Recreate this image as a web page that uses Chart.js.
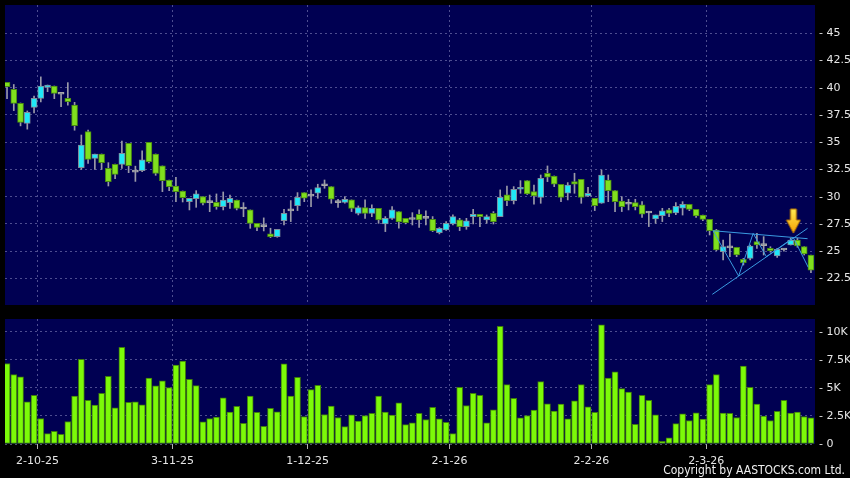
<!DOCTYPE html>
<html>
<head>
<meta charset="utf-8">
<script src="https://cdn.jsdelivr.net/npm/chart.js@4.4.1/dist/chart.umd.min.js"></script>
<style>
    html, body { margin: 0; padding: 0; background: #000; }
    #wrap { position: relative; width: 850px; height: 478px; overflow: hidden; background: #000; }
    #priceChart { position: absolute; left: 0; top: 0; }
    #volChart { position: absolute; left: 0; top: 310px; }
    #copy {
        position: absolute; right: 5px; top: 463px; color: #f0f0f0;
        font: 12px 'Liberation Sans Narrow', 'DejaVu Sans Condensed', sans-serif;
    }
</style>
</head>
<body>
<div id="wrap">
    <canvas id="priceChart" width="850" height="310"></canvas>
    <canvas id="volChart" width="850" height="168"></canvas>
    <div id="copy">Copyright by AASTOCKS.com Ltd.</div>
</div>
<script>
'use strict';

// daily candles, oldest first
const openPrices = [
    40.5, 39.85, 38.57, 36.73, 38.2, 39.03, 40.04, 40.16, 39.4, 39.03,
    38.42, 32.66, 35.97, 33.52, 33.92, 32.6, 32.97, 32.97, 34.9, 32.25,
    32.39, 35.0, 33.92, 32.82, 31.53, 30.98, 30.52, 29.54, 29.82, 30.0,
    29.45, 29.48, 29.08, 29.45, 29.69, 28.87, 28.78, 27.55, 27.25, 26.58,
    26.33, 27.8, 28.7, 29.18, 30.37, 30.05, 30.31, 31.0, 30.92, 29.45,
    29.48, 29.7, 28.47, 28.99, 28.47, 28.93, 27.49, 28.01, 28.63, 28.01,
    27.9, 28.38, 28.0, 27.92, 26.7, 26.94, 27.49, 27.86, 27.25, 28.17,
    28.38, 27.86, 28.47, 28.17, 30.16, 29.64, 30.68, 31.47, 30.46, 29.94,
    32.15, 31.9, 31.14, 30.31, 31.38, 31.59, 30.06, 29.85, 29.39, 31.53,
    30.55, 29.6, 29.3, 29.45, 29.24, 28.5, 27.95, 28.26, 28.78, 28.5,
    28.95, 29.3, 28.83, 28.31, 27.92, 26.94, 24.95, 25.3, 25.35, 24.24,
    24.33, 25.87, 25.5, 25.25, 24.55, 25.1, 25.56, 26.02, 25.41, 24.64
];
const highPrices = [
    40.5, 40.3, 38.6, 37.87, 39.24, 41.0, 40.25, 40.16, 39.45, 40.47,
    38.66, 35.66, 36.12, 33.92, 33.92, 33.12, 33.0, 35.1, 34.9, 32.8,
    34.2, 35.0, 33.92, 32.82, 31.53, 31.77, 30.52, 29.85, 30.55, 30.0,
    30.15, 30.25, 30.43, 30.15, 29.69, 29.45, 28.78, 27.55, 28.05, 27.1,
    27.0, 28.84, 29.64, 30.37, 30.37, 30.62, 31.14, 31.53, 30.92, 29.76,
    30.0, 29.7, 29.15, 29.7, 29.24, 28.93, 28.17, 29.09, 28.63, 28.01,
    28.53, 28.78, 28.69, 28.17, 27.16, 27.7, 28.32, 28.01, 28.01, 28.84,
    28.38, 28.32, 28.63, 30.62, 30.98, 30.92, 31.47, 31.47, 31.07, 31.99,
    32.82, 31.9, 31.14, 31.29, 32.15, 31.59, 30.86, 29.85, 32.45, 31.99,
    30.55, 30.0, 29.76, 29.76, 29.54, 28.63, 28.32, 28.93, 28.93, 29.45,
    29.54, 29.3, 28.83, 28.31, 27.92, 27.0, 26.02, 26.57, 25.35, 24.33,
    25.56, 26.63, 26.33, 25.4, 25.25, 25.2, 26.17, 26.17, 25.41, 24.64
];
const lowPrices = [
    39.0, 37.9, 36.5, 36.2, 37.7, 38.7, 39.64, 39.0, 38.26, 38.4,
    36.1, 32.5, 33.06, 32.5, 32.5, 30.98, 31.65, 32.6, 32.2, 31.4,
    32.3, 33.1, 31.96, 30.46, 30.55, 29.54, 29.51, 28.78, 29.02, 29.24,
    28.62, 28.84, 28.78, 28.93, 28.78, 28.16, 27.09, 26.88, 26.85, 26.24,
    26.27, 27.4, 27.71, 28.72, 29.54, 29.09, 29.85, 30.77, 29.39, 29.0,
    29.4, 28.63, 28.32, 28.01, 28.17, 27.55, 26.79, 27.92, 27.1, 27.5,
    27.4, 27.18, 27.4, 26.79, 26.58, 26.9, 27.4, 26.88, 27.0, 27.49,
    27.25, 27.55, 27.49, 28.17, 29.18, 29.33, 30.31, 30.2, 29.3, 29.39,
    31.38, 30.92, 29.54, 29.7, 30.31, 29.39, 30.0, 28.72, 29.39, 29.54,
    28.63, 28.63, 28.78, 28.78, 28.1, 27.25, 27.55, 27.71, 28.17, 28.35,
    28.31, 28.71, 28.1, 27.8, 26.48, 25.04, 24.18, 24.49, 24.49, 23.72,
    24.18, 25.25, 24.64, 24.9, 24.43, 25.0, 25.56, 25.35, 24.64, 23.02
];
const closePrices = [
    40.1, 38.57, 36.82, 37.74, 39.03, 40.16, 40.25, 39.49, 39.4, 38.72,
    36.52, 34.74, 33.43, 33.92, 33.12, 31.38, 32.05, 33.98, 32.85, 32.25,
    33.37, 33.22, 32.14, 31.47, 30.92, 30.46, 29.91, 29.85, 30.25, 29.39,
    29.45, 29.08, 29.69, 29.85, 28.93, 28.87, 27.55, 27.18, 27.25, 26.33,
    27.0, 28.47, 28.7, 29.94, 29.85, 30.05, 30.83, 31.0, 29.76, 29.45,
    29.76, 28.93, 28.99, 28.47, 28.93, 27.86, 28.01, 28.78, 27.68, 27.62,
    27.9, 27.86, 28.0, 26.88, 27.1, 27.55, 28.17, 27.25, 27.77, 28.38,
    28.17, 28.17, 27.71, 29.94, 29.64, 30.68, 30.86, 30.25, 30.06, 31.69,
    31.78, 31.14, 29.94, 31.07, 31.14, 29.94, 30.31, 29.18, 31.99, 30.55,
    29.54, 29.09, 29.3, 29.09, 28.38, 28.5, 28.32, 28.69, 28.47, 29.1,
    29.3, 28.83, 28.22, 27.92, 26.88, 25.1, 25.41, 25.3, 24.64, 23.94,
    25.47, 25.56, 25.5, 25.04, 25.16, 25.1, 26.02, 25.47, 24.73, 23.26
];
const volumes = [
    7170, 6180, 5970, 3760, 4330, 2270, 930, 1130, 870, 2000,
    4270, 7530, 3880, 3460, 4510, 6030, 3230, 8600, 3700, 3760,
    3490, 5880, 5170, 5620, 5020, 7020, 7380, 5760, 5200, 1970,
    2270, 2390, 4120, 2840, 3350, 1850, 4270, 2810, 1580, 3170,
    2870, 7140, 4270, 5940, 2450, 4840, 5230, 2630, 3380, 2360,
    1550, 2600, 2030, 2540, 2720, 4270, 2840, 2570, 3670, 1730,
    1880, 2720, 2180, 3260, 2240, 1940, 930, 5050, 3430, 4510,
    4330, 1880, 3050, 10480, 5290, 4060, 2330, 2540, 3020, 5560,
    3580, 2930, 3550, 2240, 3850, 5290, 3320, 2810, 10600, 5880,
    6420, 4930, 4630, 1760, 4330, 3880, 2600, 240, 540, 1820,
    2690, 2090, 2780, 2210, 5290, 6180, 2750, 2720, 2360, 6930,
    5050, 3550, 2480, 2090, 2900, 3880, 2750, 2840, 2450, 2330
];

// month ticks (candle index) and their labels
const monthTicks = [4.5, 24.5, 44.5, 65.5, 86.5, 103.5];
const monthLabels = ['2-10-25', '3-11-25', '1-12-25', '2-1-26', '2-2-26', '2-3-26'];
const priceTicks = [22.5, 25, 27.5, 30, 32.5, 35, 37.5, 40, 42.5, 45];
const volTicks = [0, 2500, 5000, 7500, 10000];
const volTickLabels = ['0', '2.5K', '5K', '7.5K', '10K'];

// drawn pattern lines (candle index, price)
const trendTop = [{x: 104.5, y: 26.87}, {x: 118.5, y: 26.14}];
const trendRise = [{x: 104.4, y: 21.03}, {x: 118.5, y: 27.09}];
const zigzag = [
    {x: 104.5, y: 26.87}, {x: 108.3, y: 22.71}, {x: 110.45, y: 26.63},
    {x: 112.4, y: 24.49}, {x: 116.4, y: 26.23}, {x: 118.6, y: 23.51}
];
const arrowMark = [{x: 116.4, y: 27.76}];

const UP = '#1fe8f8', UP_EDGE = '#7f8c9c';
const DOWN = '#80e01e', DOWN_EDGE = '#4a8c12';
const FLAT = '#9aa0aa', FLAT_EDGE = '#a8a8a8';
const GRID = 'rgba(140,140,195,0.55)';
const TXT = '#e6e6e6';

const areaFill = {
    id: 'areaFill',
    beforeDraw(chart) {
        const {ctx, chartArea: a} = chart;
        ctx.save();
        ctx.fillStyle = '#000052';
        ctx.fillRect(a.left, a.top, a.width, a.height);
        ctx.restore();
    }
};

function noPad(s) {
    s.paddingTop = 0;
    s.paddingBottom = 0;
    s.paddingLeft = 0;
    s.paddingRight = 0;
}

function makeArrow() {
    const c = document.createElement('canvas');
    c.width = 16;
    c.height = 26;
    const g = c.getContext('2d');
    const grad = g.createLinearGradient(0, 0, 0, 26);
    grad.addColorStop(0, '#ffee55');
    grad.addColorStop(1, '#f5a000');
    g.beginPath();
    g.moveTo(5, 1);
    g.lineTo(11, 1);
    g.lineTo(11, 12);
    g.lineTo(15, 12);
    g.lineTo(8, 25);
    g.lineTo(1, 12);
    g.lineTo(5, 12);
    g.closePath();
    g.fillStyle = grad;
    g.fill();
    g.strokeStyle = '#b87400';
    g.lineWidth = 1;
    g.stroke();
    return c;
}

function xScale(showLabels) {
    return {
        type: 'linear',
        min: -0.3,
        max: 119.6,
        offset: false,
        afterBuildTicks: s => { s.ticks = monthTicks.map(v => ({value: v})); },
        afterFit: s => {
            s.height = showLabels ? 34 : 0;
            noPad(s);
        },
        grid: {
            offset: false,
            color: GRID,
            drawTicks: showLabels,
            tickLength: 5,
            tickColor: '#b0b0b0',
            tickBorderDash: []
        },
        border: {display: false, dash: [2, 3]},
        ticks: {
            display: showLabels,
            autoSkip: false,
            maxRotation: 0,
            padding: 6,
            color: TXT,
            font: {family: 'DejaVu Sans', size: 11},
            callback: (v, i) => monthLabels[i]
        }
    };
}

function yScale(min, max, tickVals, label) {
    return {
        position: 'right',
        min: min,
        max: max,
        afterBuildTicks: s => { s.ticks = tickVals.map(v => ({value: v})); },
        afterFit: s => {
            s.width = 35;
            noPad(s);
        },
        grid: {color: GRID, drawTicks: false},
        border: {display: false, dash: [2, 3]},
        ticks: {
            padding: 4,
            color: TXT,
            font: {family: 'DejaVu Sans', size: 11},
            callback: label
        }
    };
}

document.addEventListener('DOMContentLoaded', () => {
    const idx = openPrices.map((_, i) => i);
    const kind = idx.map(i => closePrices[i] > openPrices[i] ? 1 : (closePrices[i] < openPrices[i] ? -1 : 0));

    new Chart(document.getElementById('priceChart'), {
        type: 'bar',
        data: {
            datasets: [
                {
                    type: 'line',
                    data: arrowMark,
                    showLine: false,
                    pointStyle: makeArrow(),
                    pointRadius: 8,
                    order: 0
                },
                {
                    type: 'line',
                    data: trendTop,
                    borderColor: '#3a9ae0',
                    borderWidth: 1,
                    pointRadius: 0,
                    order: 1
                },
                {
                    type: 'line',
                    data: trendRise,
                    borderColor: '#3a9ae0',
                    borderWidth: 1,
                    pointRadius: 0,
                    order: 1
                },
                {
                    type: 'line',
                    data: zigzag,
                    borderColor: '#3a9ae0',
                    borderWidth: 1,
                    pointRadius: 0,
                    order: 1
                },
                {
                    data: idx.map(i => ({x: i, y: [openPrices[i], closePrices[i]]})),
                    backgroundColor: kind.map(k => k > 0 ? UP : (k < 0 ? DOWN : FLAT)),
                    borderColor: kind.map(k => k > 0 ? UP_EDGE : (k < 0 ? DOWN_EDGE : FLAT_EDGE)),
                    borderWidth: 1,
                    borderSkipped: false,
                    barThickness: 6,
                    minBarLength: 2,
                    grouped: false,
                    order: 2
                },
                {
                    data: idx.map(i => ({x: i, y: [lowPrices[i], highPrices[i]]})),
                    backgroundColor: '#9a9aa8',
                    borderWidth: 0,
                    barThickness: 1,
                    grouped: false,
                    order: 3
                }
            ]
        },
        options: {
            responsive: false,
            animation: false,
            layout: {autoPadding: false, padding: {left: 5, top: 5, right: 0, bottom: 5}},
            plugins: {legend: {display: false}, tooltip: {enabled: false}},
            scales: {
                x: xScale(false),
                y: yScale(20.05, 47.6, priceTicks, v => '- ' + v)
            }
        },
        plugins: [areaFill]
    });

    new Chart(document.getElementById('volChart'), {
        type: 'bar',
        data: {
            datasets: [{
                data: idx.map(i => ({x: i, y: volumes[i]})),
                backgroundColor: '#7cfa08',
                borderColor: '#3f7d0c',
                borderWidth: 1,
                borderSkipped: false,
                barThickness: 6,
                grouped: false
            }]
        },
        options: {
            responsive: false,
            animation: false,
            layout: {autoPadding: false, padding: {left: 5, top: 9, right: 0, bottom: 0}},
            plugins: {legend: {display: false}, tooltip: {enabled: false}},
            scales: {
                x: xScale(true),
                y: yScale(0, 11130, volTicks, (v, i) => '- ' + volTickLabels[i])
            }
        },
        plugins: [areaFill]
    });
});
</script>
</body>
</html>
